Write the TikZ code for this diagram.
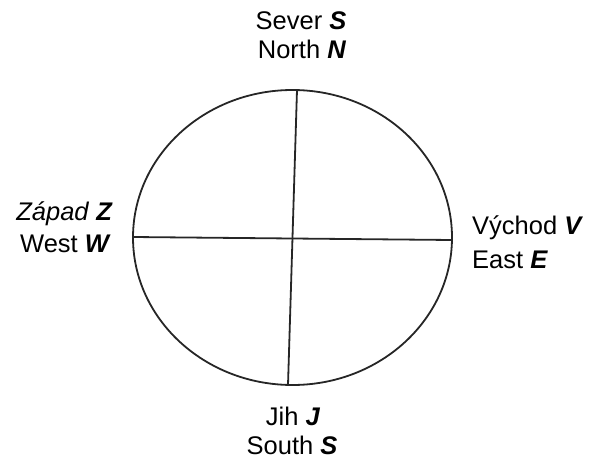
\documentclass[tikz,border=0pt]{standalone}
\usepackage{fontspec}
\setmainfont{Liberation Sans}
\begin{document}
\begin{tikzpicture}[x=1pt,y=-1pt,
  lbl/.style={font=\fontsize{25.5}{30}\selectfont, inner sep=0pt},
  ln/.style={line width=1.8pt, draw=black!85}]
\useasboundingbox (0,0) rectangle (600,460);
\draw[ln] (292.5,237.5) ellipse [x radius=159.5, y radius=147.5];
\coordinate (top) at (297,90);
\coordinate (bot) at (288,385);
\coordinate (lft) at (133,237);
\coordinate (rgt) at (452,240);
\draw[ln] (top) -- (bot);
\draw[ln] (lft) -- (rgt);
\node[lbl] (sever) at (301,21) {Sever \textbf{\textit{S}}};
\node[lbl] (north) at (302,49) {North \textbf{\textit{N}}};
\node[lbl, anchor=east] (zapad) at (113,214) {\textit{Západ} \textbf{\textit{Z}}};
\node[lbl, anchor=east] (west) at (111,244) {West \textbf{\textit{W}}};
\node[lbl, anchor=west] (vychod) at (472,228) {Východ \textbf{\textit{V}}};
\node[lbl, anchor=west] (east) at (472,260) {East \textbf{\textit{E}}};
\node[lbl] (jih) at (293,416) {Jih \textbf{\textit{J}}};
\node[lbl] (south) at (292,445) {South \textbf{\textit{S}}};
\end{tikzpicture}
\end{document}
